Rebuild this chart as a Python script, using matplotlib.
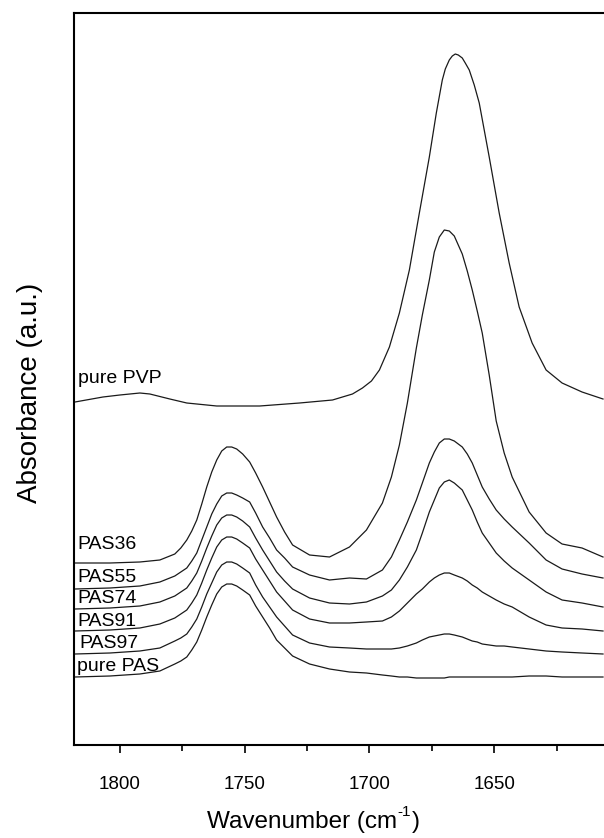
import matplotlib as mpl
mpl.use('agg')
import matplotlib.pyplot as plt
from matplotlib.ticker import MultipleLocator

plt.rcParams['font.family'] = ['Liberation Sans', 'DejaVu Sans']

# wavenumber grid (cm-1) used for the PAS series
wn = [1818, 1804, 1792, 1784, 1778, 1775.6, 1773.2, 1771.2, 1769.2, 1767.2,
      1765.2, 1763.2, 1761.2, 1759.2, 1757.2, 1755.2, 1753.2, 1750.8, 1748, 1745.6,
      1742.8, 1740, 1737.2, 1734, 1730.8, 1724, 1716, 1708, 1701.2, 1694.8,
      1691.2, 1688, 1684.8, 1681.2, 1678.8, 1676, 1674, 1672, 1670, 1668,
      1666, 1662.8, 1660.8, 1658.8, 1656.8, 1654.8, 1652, 1649.2, 1646, 1642.8,
      1636, 1629.2, 1622.8, 1614.8, 1606.4]

pas36 = [1.82, 1.82, 1.83, 1.85, 1.91, 1.97, 2.05, 2.14, 2.25, 2.41,
         2.58, 2.73, 2.85, 2.94, 2.98, 2.98, 2.96, 2.91, 2.83, 2.72,
         2.58, 2.43, 2.28, 2.13, 2.00, 1.90, 1.88, 1.98, 2.15, 2.42,
         2.68, 3.00, 3.42, 3.97, 4.30, 4.65, 4.93, 5.08, 5.15, 5.14,
         5.09, 4.91, 4.74, 4.55, 4.34, 4.12, 3.70, 3.24, 2.92, 2.68,
         2.33, 2.12, 2.01, 1.97, 1.88]
pas55 = [1.56, 1.57, 1.59, 1.63, 1.69, 1.73, 1.77, 1.84, 1.92, 2.05,
         2.18, 2.31, 2.41, 2.49, 2.52, 2.52, 2.50, 2.47, 2.43, 2.32,
         2.18, 2.07, 1.95, 1.87, 1.78, 1.70, 1.65, 1.67, 1.66, 1.75,
         1.88, 2.05, 2.23, 2.45, 2.62, 2.82, 2.93, 3.02, 3.06, 3.06,
         3.04, 2.98, 2.91, 2.82, 2.70, 2.58, 2.46, 2.35, 2.26, 2.18,
         2.02, 1.85, 1.76, 1.71, 1.67]
pas74 = [1.36, 1.37, 1.39, 1.43, 1.49, 1.53, 1.57, 1.64, 1.72, 1.84,
         1.97, 2.09, 2.20, 2.27, 2.30, 2.30, 2.28, 2.24, 2.18, 2.07,
         1.95, 1.84, 1.73, 1.64, 1.56, 1.47, 1.42, 1.41, 1.43, 1.49,
         1.55, 1.65, 1.78, 1.95, 2.12, 2.33, 2.45, 2.57, 2.63, 2.65,
         2.62, 2.55, 2.45, 2.35, 2.23, 2.12, 2.02, 1.92, 1.84, 1.77,
         1.65, 1.53, 1.45, 1.42, 1.38]
pas91 = [1.14, 1.15, 1.17, 1.21, 1.27, 1.31, 1.35, 1.42, 1.50, 1.62,
         1.75, 1.87, 1.98, 2.05, 2.08, 2.08, 2.06, 2.02, 1.97, 1.86,
         1.75, 1.64, 1.53, 1.44, 1.35, 1.26, 1.22, 1.22, 1.23, 1.24,
         1.28, 1.34, 1.42, 1.51, 1.56, 1.63, 1.67, 1.70, 1.72, 1.72,
         1.70, 1.67, 1.64, 1.60, 1.57, 1.53, 1.49, 1.45, 1.41, 1.38,
         1.28, 1.20, 1.17, 1.16, 1.14]
pas97 = [0.91, 0.92, 0.94, 0.97, 1.04, 1.07, 1.11, 1.18, 1.26, 1.38,
         1.51, 1.62, 1.73, 1.80, 1.83, 1.83, 1.81, 1.77, 1.72, 1.60,
         1.48, 1.38, 1.28, 1.19, 1.10, 1.02, 0.98, 0.97, 0.96, 0.96,
         0.96, 0.97, 0.99, 1.02, 1.05, 1.08, 1.09, 1.10, 1.11, 1.11,
         1.10, 1.08, 1.06, 1.04, 1.03, 1.01, 1.00, 0.99, 0.99, 0.98,
         0.96, 0.94, 0.93, 0.92, 0.91]
pure_pas = [0.68, 0.69, 0.71, 0.74, 0.81, 0.84, 0.88, 0.95, 1.03, 1.15,
            1.28, 1.40, 1.51, 1.58, 1.61, 1.61, 1.59, 1.55, 1.50, 1.39,
            1.28, 1.17, 1.05, 0.97, 0.89, 0.81, 0.76, 0.73, 0.72, 0.70,
            0.69, 0.68, 0.68, 0.67, 0.67, 0.67, 0.67, 0.67, 0.67, 0.68,
            0.68, 0.68, 0.68, 0.68, 0.68, 0.68, 0.68, 0.68, 0.68, 0.68,
            0.69, 0.69, 0.68, 0.68, 0.68]

# pure PVP has its own grid
wn_pvp = [1818, 1806.8, 1800, 1792, 1788, 1780, 1773.2, 1761.2, 1744, 1728,
          1714.8, 1706.8, 1702.8, 1699.2, 1696, 1692, 1688, 1684, 1680, 1676,
          1673.2, 1670.8, 1669.6, 1668, 1666.8, 1665.6, 1664.4, 1662.8, 1661.6, 1660,
          1658, 1656, 1652, 1648, 1644, 1640, 1634.8, 1629.2, 1622.8, 1614.8,
          1606.4]
pure_pvp = [3.43, 3.48, 3.50, 3.52, 3.51, 3.46, 3.42, 3.39, 3.39, 3.42,
            3.45, 3.51, 3.57, 3.64, 3.75, 3.98, 4.32, 4.75, 5.32, 5.88,
            6.32, 6.65, 6.76, 6.85, 6.89, 6.91, 6.90, 6.87, 6.82, 6.75,
            6.60, 6.42, 5.88, 5.32, 4.82, 4.38, 4.02, 3.75, 3.62, 3.53,
            3.46]

labels = ['pure PVP', 'PAS36', 'PAS55', 'PAS74', 'PAS91', 'PAS97', 'pure PAS']
label_x = [1816.8, 1817.2, 1817.2, 1817.2, 1817.2, 1816.2, 1817.2]
label_y = [3.67, 2.01, 1.68, 1.47, 1.24, 1.02, 0.79]

fig = plt.figure(figsize=(6.04, 8.38), dpi=100)
ax = fig.add_axes([74/604, (838-745)/838, 530/604, (745-13)/838])

lc = '#1a1a1a'
ax.plot(wn_pvp, pure_pvp, color=lc, lw=0.9, solid_joinstyle='round')
for s in [pas36, pas55, pas74, pas91, pas97, pure_pas]:
  ax.plot(wn, s, color=lc, lw=0.9, solid_joinstyle='round')

for t, x, y in zip(labels, label_x, label_y):
  ax.text(x, y, t, fontsize=14, ha='left', va='center', color='black')

ax.set_xlim(1818.4, 1606)
ax.set_ylim(0, 7.32)

ax.xaxis.set_major_locator(MultipleLocator(50))
ax.xaxis.set_minor_locator(MultipleLocator(25))
ax.tick_params(axis='x', which='major', direction='out', length=6, width=1.2,
               labelsize=13.5, pad=16)
ax.tick_params(axis='x', which='minor', direction='out', length=4, width=1.2)
ax.tick_params(axis='x', top=False)
ax.set_yticks([])

ax.spines['right'].set_visible(False)
ax.spines['left'].set_linewidth(1.5)
ax.spines['bottom'].set_linewidth(1.5)
ax.spines['top'].set_linewidth(1.5)

# x label built in pieces so the exponent uses a short hyphen
base_y = (838 - 828) / 838
t1 = fig.text(207/604, base_y, 'Wavenumber (cm', fontsize=17.5,
              ha='left', va='baseline')
r = fig.canvas.get_renderer()
x1 = fig.transFigure.inverted().transform((t1.get_window_extent(r).x1, 0))[0]
t2 = fig.text(x1, (838 - 816) / 838, '-1', fontsize=11, ha='left', va='baseline')
x2 = fig.transFigure.inverted().transform((t2.get_window_extent(r).x1, 0))[0]
fig.text(x2 + 1/604, base_y, ')', fontsize=17.5, ha='left', va='baseline')

fig.text(30/604, 1 - 393/838, 'Absorbance (a.u.)', fontsize=20,
         rotation=90, ha='center', va='center')

fig.savefig('out.png', dpi=100)
plt.close()
